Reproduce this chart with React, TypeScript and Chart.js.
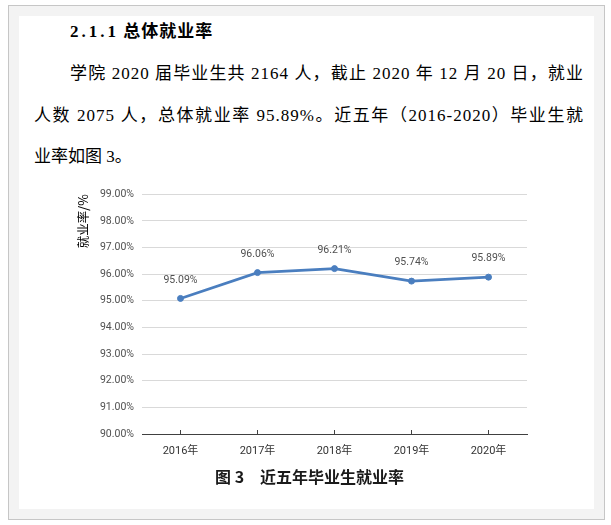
import React, { useEffect, useRef } from "react";
import { Chart, registerables } from "chart.js";

Chart.register(...registerables);

// ---- chart data ----
const years = ["2016年", "2017年", "2018年", "2019年", "2020年"];
const employmentRates = [95.09, 96.06, 96.21, 95.74, 95.89];
const yAxisMin = 90;
const yAxisMax = 99;
const yAxisStep = 1;
const yAxisTitle = "就业率/%";
const caption = "图 3\u3000近五年毕业生就业率";

// ---- document text ----
const headingNumber = "2.1.1";
const headingText = "总体就业率";
const paragraphLines = [
  "学院 2020 届毕业生共 2164 人，截止 2020 年 12 月 20 日，就业",
  "人数 2075 人，总体就业率 95.89%。近五年（2016-2020）毕业生就",
  "业率如图 3。",
];

const chartFont = 'Roboto, "Noto Sans CJK SC", sans-serif';
const serifFont = '"Liberation Serif", "DejaVu Serif", "Noto Sans CJK SC", serif';
const lineColor = "#4a7ebf";

const valueLabelPlugin = {
  id: "valueLabels",
  afterDatasetsDraw(chart: any) {
    const ctx = chart.ctx;
    const meta = chart.getDatasetMeta(0);
    const values = chart.data.datasets[0].data as number[];
    ctx.save();
    ctx.font = `10.5px ${chartFont}`;
    ctx.fillStyle = "#505050";
    ctx.textAlign = "center";
    ctx.textBaseline = "middle";
    meta.data.forEach((pt: any, i: number) => {
      ctx.fillText(values[i].toFixed(2) + "%", pt.x, pt.y - 18.5);
    });
    ctx.restore();
  },
};

function RateChart() {
  const ref = useRef<HTMLCanvasElement | null>(null);
  useEffect(() => {
    if (!ref.current) return;
    const chart = new Chart(ref.current, {
      type: "line",
      data: {
        labels: years,
        datasets: [
          {
            data: employmentRates,
            borderColor: lineColor,
            backgroundColor: lineColor,
            borderWidth: 2.75,
            pointRadius: 3,
            pointBorderWidth: 1,
            pointBackgroundColor: lineColor,
            pointBorderColor: lineColor,
            tension: 0,
          },
        ],
      },
      options: {
        responsive: false,
        animation: false,
        layout: { padding: { left: 10, right: 33, top: 13.5, bottom: 7 } },
        plugins: {
          legend: { display: false },
          tooltip: { enabled: false },
        },
        scales: {
          x: {
            type: "category",
            offset: true,
            grid: {
              display: true,
              drawOnChartArea: false,
              drawTicks: true,
              tickLength: -4,
              color: "#404040",
              offset: false,
            },
            border: { display: true, color: "#404040", width: 1 },
            ticks: {
              padding: 15,
              color: "#333333",
              font: { family: chartFont, size: 11 },
              maxRotation: 0,
            },
            afterFit: (s: any) => {
              s.height = 24;
            },
          },
          y: {
            min: yAxisMin,
            max: yAxisMax,
            ticks: {
              stepSize: yAxisStep,
              padding: 8,
              color: "#505050",
              font: { family: chartFont, size: 10.5 },
              callback: (v: any) => Number(v).toFixed(2) + "%",
            },
            grid: { color: "#d9d9d9", drawTicks: false, lineWidth: 1 },
            border: { display: false },
            title: {
              display: true,
              text: yAxisTitle,
              align: "end",
              color: "#000000",
              font: { family: '"Noto Sans CJK SC", sans-serif', size: 12.5 },
              padding: { top: 6, bottom: 4 },
            },
            afterFit: (s: any) => {
              s.width = 72;
            },
          },
        },
      },
      plugins: [valueLabelPlugin],
    } as any);
    return () => chart.destroy();
  }, []);
  return (
    <canvas
      ref={ref}
      width={500}
      height={285}
      style={{ position: "absolute", left: 60, top: 180, width: 500, height: 285 }}
    />
  );
}

export default function App() {
  const lineStyle: React.CSSProperties = {
    position: "absolute",
    fontFamily: serifFont,
    fontSize: 17,
    lineHeight: "20px",
    color: "#000",
    whiteSpace: "nowrap",
  };
  return (
    <div style={{ position: "absolute", left: 0, top: 0, width: 611, height: 525, background: "#fff" }}>
      <div
        style={{
          position: "absolute",
          left: 8,
          top: 5,
          width: 597,
          height: 515,
          boxSizing: "border-box",
          border: "1px solid #c6c6c6",
          background: "#f3f3f3",
        }}
      />
      <div style={{ position: "absolute", left: 19, top: 16, width: 575, height: 493, background: "#fff" }} />
      <div style={{ ...lineStyle, left: 70, top: 21.5, fontWeight: "bold" }}>
        <span style={{ letterSpacing: 3 }}>{headingNumber}</span>{" "}
        <span style={{ letterSpacing: 1 }}>{headingText}</span>
      </div>
      <div
        style={{
          ...lineStyle,
          left: 70,
          top: 63.8,
          width: 514,
          whiteSpace: "normal",
          letterSpacing: 1,
          textAlign: "justify",
          textAlignLast: "justify",
        }}
      >
        {paragraphLines[0]}
      </div>
      <div
        style={{
          ...lineStyle,
          left: 34,
          top: 105.5,
          width: 550,
          whiteSpace: "normal",
          letterSpacing: 1,
          textAlign: "justify",
          textAlignLast: "justify",
        }}
      >
        {paragraphLines[1]}
      </div>
      <div style={{ ...lineStyle, left: 34, top: 147.2 }}>{paragraphLines[2]}</div>
      <RateChart />
      <div
        style={{
          position: "absolute",
          left: 215,
          top: 466,
          fontFamily: '"Noto Sans CJK SC", sans-serif',
          fontWeight: "bold",
          fontSize: 16,
          lineHeight: "20px",
          color: "#1a1a1a",
          whiteSpace: "nowrap",
        }}
      >
        {caption}
      </div>
    </div>
  );
}
